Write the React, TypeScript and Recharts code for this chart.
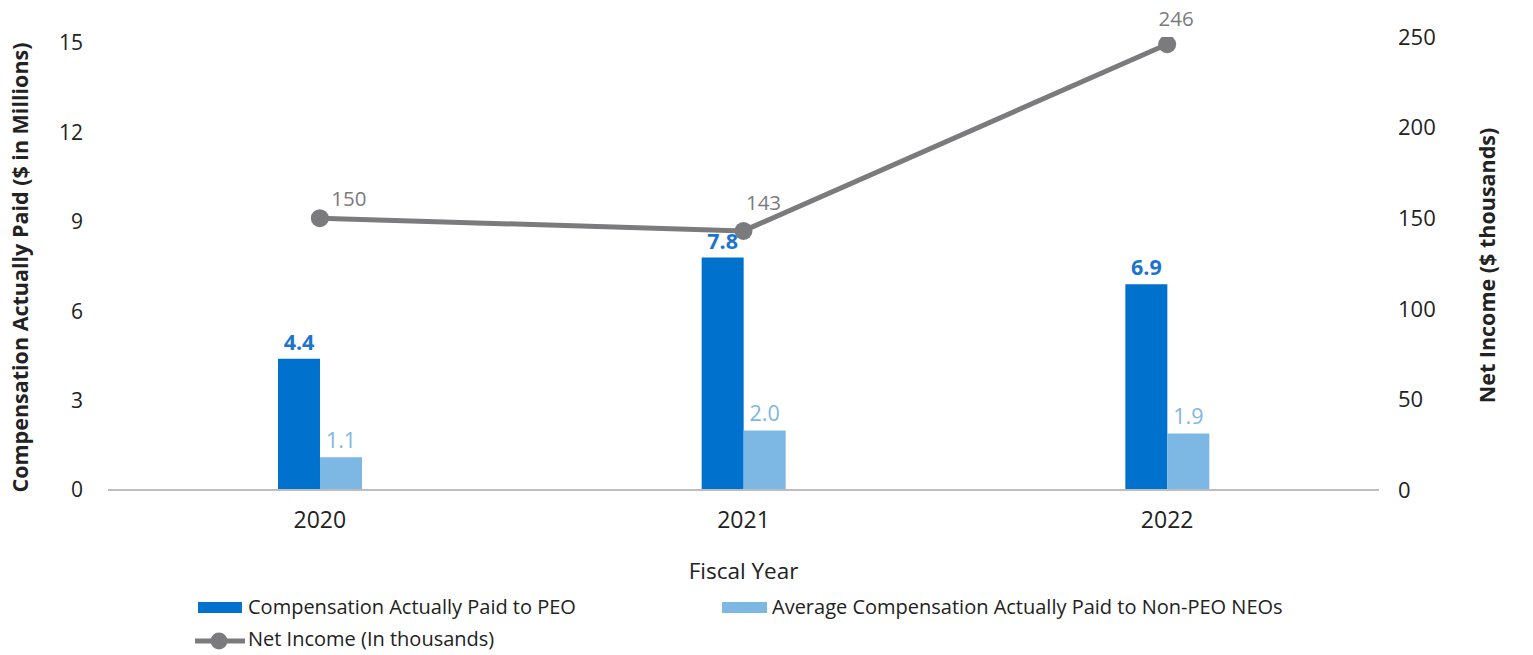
import React from "react";
import {
  ComposedChart,
  Bar,
  Line,
  XAxis,
  YAxis,
  Legend,
  LabelList,
} from "recharts";

const years = ["2020", "2021", "2022"];
const peoComp = [4.4, 7.8, 6.9];
const neoComp = [1.1, 2.0, 1.9];
const netIncome = [150, 143, 246];
const leftTicks = [0, 3, 6, 9, 12, 15];
const rightTicks = [0, 50, 100, 150, 200, 250];

const data = years.map((y, i) => ({
  year: y,
  peo: peoComp[i],
  neo: neoComp[i],
  ni: netIncome[i],
}));

const FONT = "'Open Sans', Lato, sans-serif";
const DARK = "#0071CD";
const LIGHT = "#7DB7E4";
const GRAY = "#7B7B7D";
const TEXT = "#222222";

const lineLabelOffsets = [
  { dx: 29, dy: -20 },
  { dx: 20, dy: -29 },
  { dx: 9, dy: -26 },
];

const LineValueLabel = (props: any) => {
  const { x, y, value, index } = props;
  const o = lineLabelOffsets[index] || { dx: 0, dy: -20 };
  return (
    <text
      x={x + o.dx}
      y={y + o.dy}
      textAnchor="middle"
      dominantBaseline="central"
      fill={GRAY}
      fontSize={20.5}
      fontFamily={FONT}
    >
      {value}
    </text>
  );
};

const LeftTitle = (props: any) => {
  const vb = props.viewBox || {};
  const cy = vb.y + vb.height / 2 + 4;
  const cx = 19;
  return (
    <text
      x={cx}
      y={cy}
      transform={`rotate(-90 ${cx} ${cy})`}
      textAnchor="middle"
      dominantBaseline="central"
      fill={TEXT}
      fontSize={21.5}
      fontWeight={700}
      fontFamily={FONT}
    >
      Compensation Actually Paid ($ in Millions)
    </text>
  );
};

const RightTitle = (props: any) => {
  const vb = props.viewBox || {};
  const cy = vb.y + vb.height / 2 + 2;
  const cx = 1486;
  return (
    <text
      x={cx}
      y={cy}
      transform={`rotate(-90 ${cx} ${cy})`}
      textAnchor="middle"
      dominantBaseline="central"
      fill={TEXT}
      fontSize={21.5}
      fontWeight={700}
      fontFamily={FONT}
    >
      Net Income ($ thousands)
    </text>
  );
};

const LegendContent = () => {
  const txt: React.CSSProperties = {
    position: "absolute",
    fontSize: 20,
    fontFamily: FONT,
    color: TEXT,
    lineHeight: "22px",
    whiteSpace: "nowrap",
  };
  return (
    <div style={{ position: "relative", width: 1533, height: 70 }}>
      <div style={{ position: "absolute", left: 198, top: 17, width: 44, height: 11, background: DARK }} />
      <div style={{ ...txt, left: 248, top: 11 }}>Compensation Actually Paid to PEO</div>
      <div style={{ position: "absolute", left: 722, top: 17, width: 45, height: 11, background: LIGHT }} />
      <div style={{ ...txt, left: 772, top: 11 }}>Average Compensation Actually Paid to Non-PEO NEOs</div>
      <svg style={{ position: "absolute", left: 190, top: 45 }} width={60} height={22}>
        <line x1={5} y1={11} x2={55} y2={11} stroke={GRAY} strokeWidth={5} />
        <circle cx={29} cy={11} r={8.5} fill={GRAY} />
      </svg>
      <div style={{ ...txt, left: 248, top: 43 }}>Net Income (In thousands)</div>
    </div>
  );
};

export default function App() {
  return (
    <div style={{ width: 1533, height: 655, background: "#fff" }}>
      <style>{"body{margin:0}"}</style>
      <ComposedChart
        width={1533}
        height={655}
        data={data}
        margin={{ top: 37, right: 0, bottom: 0, left: 0 }}
        barGap={0}
        barSize={42}
      >
        <XAxis
          dataKey="year"
          height={95}
          axisLine={{ stroke: "#BDBDBD", strokeWidth: 2 }}
          tickLine={false}
          tickMargin={16}
          tick={{ fill: TEXT, fontSize: 23, fontFamily: FONT }}
          label={{
            value: "Fiscal Year",
            position: "insideBottom",
            offset: 6,
            fill: TEXT,
            fontSize: 22.5,
            fontFamily: FONT,
          }}
        />
        <YAxis
          yAxisId="left"
          orientation="left"
          width={108}
          domain={[0, 15.2]}
          ticks={leftTicks}
          allowDataOverflow
          axisLine={false}
          tickLine={false}
          tickMargin={19}
          tick={{ fill: TEXT, fontSize: 21, fontFamily: FONT }}
          label={{ content: LeftTitle }}
        />
        <YAxis
          yAxisId="right"
          orientation="right"
          width={154}
          domain={[0, 250]}
          ticks={rightTicks}
          allowDataOverflow
          axisLine={false}
          tickLine={false}
          tickMargin={13}
          tick={{ fill: TEXT, fontSize: 22, fontFamily: FONT }}
          label={{ content: RightTitle }}
        />
        <Legend verticalAlign="bottom" height={70} content={LegendContent} wrapperStyle={{ left: 0, width: 1533 }} />
        <Bar yAxisId="left" dataKey="peo" name="Compensation Actually Paid to PEO" fill={DARK} isAnimationActive={false}>
          <LabelList
            dataKey="peo"
            position="top"
            offset={9}
            formatter={(v: any) => Number(v).toFixed(1)}
            style={{ fill: "#1B74CF", fontSize: 21.5, fontWeight: 700, fontFamily: FONT }}
          />
        </Bar>
        <Bar yAxisId="left" dataKey="neo" name="Average Compensation Actually Paid to Non-PEO NEOs" fill={LIGHT} isAnimationActive={false}>
          <LabelList
            dataKey="neo"
            position="top"
            offset={9}
            formatter={(v: any) => Number(v).toFixed(1)}
            style={{ fill: LIGHT, fontSize: 21.5, fontFamily: FONT }}
          />
        </Bar>
        <Line
          yAxisId="right"
          dataKey="ni"
          name="Net Income (In thousands)"
          stroke={GRAY}
          strokeWidth={5}
          dot={{ r: 9, fill: GRAY, stroke: GRAY, strokeWidth: 0 }}
          isAnimationActive={false}
        >
          <LabelList dataKey="ni" content={LineValueLabel} />
        </Line>
      </ComposedChart>
    </div>
  );
}
